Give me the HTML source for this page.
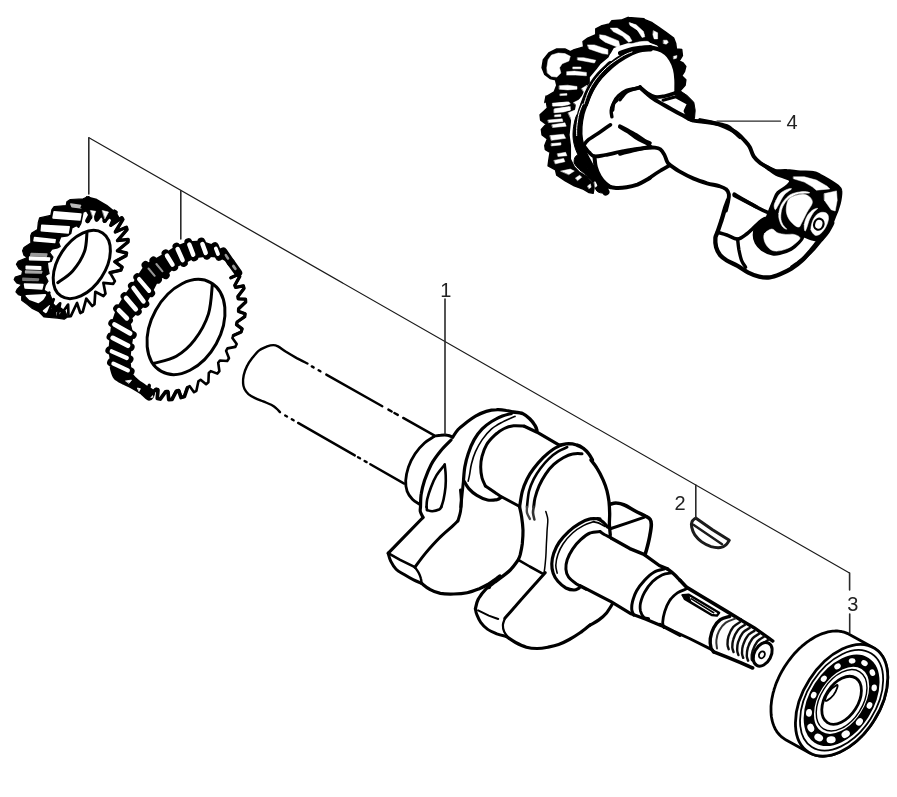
<!DOCTYPE html>
<html lang="en">
<head>
<meta charset="utf-8">
<title>Crankshaft assembly diagram</title>
<style>
html,body{margin:0;padding:0;background:#fff;}
body{width:897px;height:797px;overflow:hidden;font-family:"Liberation Sans",sans-serif;}
svg{display:block;}
</style>
</head>
<body>
<svg width="897" height="797" viewBox="0 0 897 797" stroke-linecap="round" stroke-linejoin="round">
<defs><filter id="soft" x="0" y="0" width="897" height="797" filterUnits="userSpaceOnUse"><feGaussianBlur stdDeviation="0.42"/></filter></defs>
<rect width="897" height="797" fill="#fff"/>
<g filter="url(#soft)">
<g id="crank">
<path d="M307.5 363.5C305.7 362.6 300.3 360 296.7 358.1C293.2 356.1 289.1 353.7 286 351.8C282.9 349.8 280.1 347.5 278 346.4C275.8 345.3 275 345.1 273.3 345.1C271.5 345.1 269.6 345.5 267.2 346.4C264.9 347.3 261.6 348.5 259.2 350.4C256.7 352.3 254.5 355.2 252.4 357.8C250.4 360.4 248.5 363 247.1 365.9C245.6 368.8 244.4 372.4 243.7 375.3C243.1 378.2 242.9 381.1 243.1 383.3C243.2 385.6 243.5 386.9 244.4 388.7C245.3 390.5 246.6 392.5 248.4 394.1C250.2 395.6 252.7 396.9 255.1 398.1C257.6 399.3 260.5 400.3 263.2 401.4C265.9 402.6 269 403.6 271.2 404.8C273.5 406 275.2 407.3 276.6 408.6C278.1 409.8 279.4 411.6 280 412.2" fill="none" stroke="#000" stroke-width="2.4" />
<path d="M311.8 366.4 L313.6 367.4" fill="none" stroke="#000" stroke-width="2.4" />
<path d="M318.6 370.3 L320.4 371.3" fill="none" stroke="#000" stroke-width="2.4" />
<path d="M326.3 374.6 L382.3 406.2" fill="none" stroke="#000" stroke-width="2.4" />
<path d="M388.4 409.6 L391.7 411.5" fill="none" stroke="#000" stroke-width="2.4" />
<path d="M394.4 413 L397.8 414.9" fill="none" stroke="#000" stroke-width="2.4" />
<path d="M403.2 417.9 L434.2 435.4" fill="none" stroke="#000" stroke-width="2.4" />
<path d="M285.2 415.5 L287 416.5" fill="none" stroke="#000" stroke-width="2.4" />
<path d="M291.8 419.3 L293.6 420.3" fill="none" stroke="#000" stroke-width="2.4" />
<path d="M298.1 422.9 L354.8 455.4" fill="none" stroke="#000" stroke-width="2.4" />
<path d="M358 457.2 L360 458.3" fill="none" stroke="#000" stroke-width="2.4" />
<path d="M364.6 461 L366.6 462.1" fill="none" stroke="#000" stroke-width="2.4" />
<path d="M370.3 464.2 L404.2 483.6" fill="none" stroke="#000" stroke-width="2.4" />
<path d="M433.9 436.2C435 436.1 438.4 435.3 440.6 435.2C442.9 435 445.3 434.8 447.3 435.2C449.4 435.5 451.8 436.8 452.7 437.2" fill="none" stroke="#000" stroke-width="3" />
<path d="M433.9 436.6C432.4 437.7 427.7 440.1 424.5 443C421.4 445.8 417.8 449.7 415.1 453.7C412.4 457.7 410 462.6 408.4 467.1C406.9 471.6 406 476.5 405.7 480.5C405.5 484.6 406 488.1 407.1 491.3C408.2 494.4 410.4 497.2 412.4 499.3C414.5 501.5 418 503.2 419.2 504" fill="none" stroke="#000" stroke-width="2.8" />
<path d="M451.1 440C449.4 441.8 443.9 446.9 440.6 451C437.3 455.1 433.9 459.5 431.2 464.4C428.6 469.4 426.2 475.6 424.5 480.5C422.9 485.5 421.8 489.6 421.2 494C420.5 498.4 420.6 504.8 420.5 507" fill="none" stroke="#000" stroke-width="3.2" />
<path d="M420.5 506.9C420.5 507.7 419.9 509.7 420.3 511.5C420.7 513.2 422.5 516.5 423 517.5" fill="none" stroke="#000" stroke-width="3.2" />
<path d="M444.4 465.1C443.1 466.8 438.8 471.5 436.6 475.2C434.4 478.9 432.5 483.2 431 487.2C429.4 491.3 428 496 427.2 499.3C426.5 502.6 426.7 505.7 426.5 507" fill="none" stroke="#000" stroke-width="2.6" />
<path d="M426.6 506.9 L427 510.1" fill="none" stroke="#000" stroke-width="2.6" />
<path d="M444.7 464.4C444.8 466.2 445.6 471.4 445.7 475.2C445.9 479 445.8 483.2 445.5 487.2C445.1 491.3 444.3 496 443.6 499.3C442.9 502.6 441.7 505.7 441.3 507" fill="none" stroke="#000" stroke-width="2.6" />
<path d="M441.3 506.9C441 507.3 440.6 508.7 439.1 509.5C437.6 510.2 434.4 511.1 432.3 511.2C430.3 511.3 427.9 510.3 427 510.1" fill="none" stroke="#000" stroke-width="2.6" />
<path d="M452.7 437.2C453.6 435.9 455.9 431.9 458.1 429.5C460.3 427.1 463.2 425.1 466.1 422.8C469 420.6 472.2 418 475.5 416.1C478.9 414.2 482.7 412.5 486.3 411.4C489.9 410.3 493.7 409.8 497 409.7C500.4 409.5 503.4 410 506.4 410.5C509.4 410.9 513.6 412 515 412.3" fill="none" stroke="#000" stroke-width="3.2" />
<path d="M513.6 412.1C515.1 412.3 520.3 412.6 523 413.7C525.6 414.8 527.7 416.8 529.7 418.8C531.7 420.8 533.8 423.5 535 425.5C536.3 427.5 536.7 429.8 537 430.6" fill="none" stroke="#000" stroke-width="3.4" />
<path d="M511.5 413.4C510 413.9 505.7 414.8 502.4 416.1C499.1 417.4 495 419.4 491.6 421.5C488.3 423.6 485.2 425.8 482.2 428.9C479.3 431.9 476.5 435.5 474.2 439.6C471.8 443.7 469.7 449.1 468.2 453.7C466.6 458.3 465.6 462.6 464.8 467.1C464 471.6 463.7 478.3 463.5 480.5" fill="none" stroke="#000" stroke-width="3.2" />
<path d="M515 416.4C512.9 417.3 506.3 420.1 502.4 422.1C498.5 424.2 495 426 491.6 428.9C488.3 431.8 484.9 435.8 482.2 439.6C479.6 443.4 477.3 447.7 475.5 451.7C473.7 455.7 472.5 459.8 471.5 463.8C470.5 467.7 470.1 472.3 469.5 475.2C468.9 478.1 468.4 480.2 468.2 481.2" fill="none" stroke="#000" stroke-width="1.6" />
<path d="M524.3 426.2C522.5 426.1 516.9 425.4 513.6 425.8C510.2 426.2 507.3 426.9 504.2 428.5C501 430 497.7 432.5 494.8 435.2C491.9 437.9 488.8 441 486.7 444.6C484.6 448.1 483 452.6 482 456.4C481 460.1 480.7 463.5 480.7 467.1C480.7 470.7 481.2 474.7 482 477.9C482.8 481 484.8 484.6 485.4 485.9" fill="none" stroke="#000" stroke-width="3" />
<path d="M463.7 480.5C464.6 481.9 466.6 486.1 468.8 488.6C471 491.1 473.7 493.4 476.9 495.3C480 497.2 484.3 499.3 487.6 500C491 500.7 494.8 500 497 499.6C499.3 499.1 500.4 497.7 501 497.3" fill="none" stroke="#000" stroke-width="3.2" />
<path d="M463.5 480.5C463.2 482.8 462.6 489.6 462.1 494C461.7 498.4 461 504.8 460.8 507" fill="none" stroke="#000" stroke-width="3" />
<path d="M460.5 490C460.7 491.8 461.3 497.2 461.3 500.7C461.3 504.3 461.1 508.1 460.5 511.5C460 514.8 458.3 519.3 457.9 520.9" fill="none" stroke="#000" stroke-width="3" />
<path d="M524.3 426.2 L537 432.2 L559.2 445.2" fill="none" stroke="#000" stroke-width="3.2" />
<path d="M485.4 485.9 L500.1 496 L519.2 506.3" fill="none" stroke="#000" stroke-width="3" />
<path d="M423 517.5 L388.3 553.1" fill="none" stroke="#000" stroke-width="3.2" />
<path d="M388.1 553.1 L400.1 559.8 L414.9 567.2" fill="none" stroke="#000" stroke-width="2.6" />
<path d="M457.9 520.9C457 521.8 455.6 523.3 452.5 526.2C449.4 529.1 443.5 533.8 439.1 538.3C434.6 542.8 429.7 548.3 425.6 553.1C421.6 557.9 416.7 564.8 414.9 567.2" fill="none" stroke="#000" stroke-width="3" />
<path d="M388.1 553.1C388.5 554.4 389.4 558.5 390.7 561.1C392.1 563.8 393.9 567 396.1 569.2C398.3 571.4 401.3 572.8 404.2 574.6C407.1 576.4 410.6 578.5 413.6 579.9C416.5 581.4 420.3 582.7 421.6 583.3" fill="none" stroke="#000" stroke-width="3" />
<path d="M414.9 567.2C415.6 568.2 417.9 571.3 418.9 573.2C419.9 575.1 420.5 576.9 420.9 578.6C421.4 580.3 421.5 582.5 421.6 583.3" fill="none" stroke="#000" stroke-width="2.4" />
<path d="M421.6 583.3C423 584.3 426.5 587.7 429.7 589.3C432.8 591 436.4 592.6 440.4 593.4C444.4 594.1 449.4 594.1 453.8 594C458.3 593.9 463 593.6 467.2 592.7C471.5 591.8 475.7 590.1 479.3 588.7C482.9 587.2 486 585.5 488.7 584C491.4 582.4 493.6 580.6 495.4 579.3C497.3 577.9 499.2 576.5 500 575.9" fill="none" stroke="#000" stroke-width="3.2" />
<path d="M560.5 445.4C559.2 446.1 555.4 447.6 552.5 449.7C549.6 451.7 546.2 454.6 543.1 457.7C540 460.9 536.4 464.9 533.7 468.5C531 472 528.9 475.4 527 479.2C525.1 483 523.5 486.6 522.3 491.3C521.1 495.9 520 504.4 519.6 507" fill="none" stroke="#000" stroke-width="3.2" />
<path d="M567.2 447.2C565.7 448 561 449.7 557.9 451.7C554.7 453.6 551.4 456.3 548.5 459.1C545.5 461.9 542.9 465.1 540.4 468.5C537.9 471.8 535.6 475.4 533.7 479.2C531.8 483 530.1 486.6 529 491.3C527.9 495.9 527.3 504.4 527 507" fill="none" stroke="#000" stroke-width="2.6" />
<path d="M582 453.7C580.4 453.7 575.7 453.3 572.6 454C569.5 454.6 566.4 456 563.2 457.7C560.1 459.5 556.7 461.7 553.8 464.4C550.9 467.1 548.2 470.2 545.8 473.8C543.3 477.4 540.9 481.9 539.1 485.9C537.3 489.9 535.9 494.5 535 498C534.1 501.5 533.9 505.5 533.7 507" fill="none" stroke="#000" stroke-width="3" />
<path d="M559.9 445.2C561.3 445 565.8 443.7 568.6 443.6C571.4 443.6 574.2 444.2 576.6 445C579.1 445.7 581.3 446.9 583.4 448.3C585.4 449.8 587.2 451.7 588.7 453.7C590.2 455.6 591.9 458.9 592.5 460" fill="none" stroke="#000" stroke-width="3.4" />
<path d="M527 506.9C527 507.9 526.5 510.8 527 512.8C527.5 514.8 529.4 517.9 529.9 518.9" fill="none" stroke="#444" stroke-width="2.4" />
<path d="M533.7 506.9C533.6 507.9 532.9 510.7 533 512.8C533.1 514.9 534.1 518.4 534.4 519.5" fill="none" stroke="#333" stroke-width="2.6" />
<path d="M519.6 506.9C519.9 508.6 521.1 513 521.6 516.8C522.2 520.7 522.8 525.8 523 530.3C523.1 534.7 522.7 539.7 522.3 543.7C521.8 547.7 520.9 551.7 520.3 554.4C519.6 557.1 518.6 558.9 518.3 559.8" fill="none" stroke="#000" stroke-width="3.2" />
<path d="M545.8 511.5C546.1 512.8 547.6 516.4 547.8 519.5C548 522.7 547.3 526.2 547.1 530.3C546.9 534.3 546.7 539.2 546.4 543.7C546.2 548.2 546.1 552.6 545.8 557.1C545.4 561.6 544.9 567.6 544.4 570.5C544 573.4 543.3 573.9 543.1 574.6" fill="none" stroke="#000" stroke-width="1.5" />
<path d="M518.3 559.8 L529.7 566.5 L543.1 573.9" fill="none" stroke="#000" stroke-width="2.6" />
<path d="M590.9 460C591.9 461.3 594.9 464.7 596.9 468.1C599 471.4 601.5 476.3 603.2 480.1C604.9 483.9 606 487.3 607 490.9C607.9 494.5 608.5 497.8 609 501.6C609.4 505.4 609.6 509.9 609.7 513.7C609.7 517.5 609.3 520.9 609.4 524.4C609.5 528 610.2 533.4 610.3 535.2" fill="none" stroke="#000" stroke-width="3.3" />
<path d="M518.3 559.8C517 561.5 513.8 566.5 510.3 570C506.7 573.5 500.9 577.6 496.8 580.7C492.8 583.9 489.2 585.7 486.1 588.8C483 591.9 479.8 596.2 478.1 599.5C476.3 602.9 475.8 607.4 475.4 608.9" fill="none" stroke="#000" stroke-width="3.2" />
<circle cx="488.6" cy="586.6" r="2.6" fill="#000"/>
<path d="M545.2 572.7C543.4 574.7 538 580.7 534.4 584.8C530.9 588.8 527.3 592.8 523.7 596.8C520.1 600.9 516.1 605.3 513 608.9C509.8 612.5 506.2 616.8 504.9 618.3" fill="none" stroke="#000" stroke-width="3" />
<path d="M475.4 608.9C475.6 609.8 475.8 612.1 476.7 614.3C477.6 616.5 478.9 619.9 480.7 622.3C482.5 624.8 484.8 627.2 487.4 629.1C490.1 631 493.7 632.5 496.8 633.8C500 635 504.7 636 506.2 636.4" fill="none" stroke="#000" stroke-width="3" />
<path d="M478.1 610.3 L488.8 615.6 L498.2 619" fill="none" stroke="#000" stroke-width="2" />
<path d="M504.9 618.3C504.6 619.4 503 622.8 502.9 625C502.8 627.3 503.2 629.5 504.2 631.7C505.2 634 508.1 637.3 508.9 638.5" fill="none" stroke="#000" stroke-width="2.2" />
<path d="M506.2 636.4C507.8 637.4 512.3 640.7 515.6 642.5C519 644.3 522.8 646.2 526.4 647.2C530 648.2 533.5 648.5 537.1 648.5C540.7 648.5 544.3 647.9 547.9 647.2C551.4 646.5 555 645.8 558.6 644.5C562.2 643.2 565.7 641.5 569.3 639.5C572.9 637.6 576.6 635.2 580.1 632.8C583.5 630.4 588.3 626.3 590 625" fill="none" stroke="#000" stroke-width="3.2" />
<path d="M612.3 604.2C611.3 605.7 608.5 610.5 606.3 613.2C604.1 615.8 601.6 617.9 598.9 619.9C596.2 621.9 591.5 624.2 590.1 625.1" fill="none" stroke="#000" stroke-width="3.2" />
<path d="M600 518.9C598.3 518.9 593.5 518.1 590.1 518.9C586.6 519.6 582.9 521.4 579.3 523.6C575.7 525.7 571.9 528.5 568.6 531.6C565.2 534.7 561.7 538.8 559.2 542.3C556.7 545.9 555.1 549.5 553.8 553.1C552.6 556.7 551.9 560.5 551.8 563.8C551.7 567.2 552.1 570.3 553.2 573.2C554.2 576.1 555.7 578.8 557.9 581.3C560 583.7 563.2 586.5 565.9 588C568.6 589.4 571.7 590 574 590C576.2 590 578.4 588.3 579.3 588" fill="none" stroke="#000" stroke-width="3.2" />
<path d="M594.1 521.5C592.3 522.2 586.9 523.7 583.4 525.6C579.8 527.5 576 529.9 572.6 533C569.3 536 565.7 540.1 563.2 543.7C560.8 547.3 559.1 550.9 557.9 554.4C556.6 558 556 562 555.8 565.2C555.7 568.3 557 571.9 557.2 573.2" fill="none" stroke="#000" stroke-width="1.6" />
<path d="M600 531.6C598.3 531.8 593.3 531.6 590.1 533C586.8 534.3 583.6 537 580.7 539.7C577.8 542.3 574.9 545.7 572.6 549.1C570.4 552.4 568.4 556.4 567.2 559.8C566.1 563.2 565.7 566.3 565.9 569.2C566.1 572.1 566.8 574.8 568.6 577.2C570.4 579.7 573.7 581.9 576.6 584C579.6 586 584.5 588.4 586 589.3" fill="none" stroke="#000" stroke-width="3" />
<path d="M597.6 518.7C598.5 519.2 601.3 520.6 603 522C604.6 523.4 606.9 526.3 607.7 527.1" fill="none" stroke="#000" stroke-width="3.2" />
<path d="M593.6 521.7C594.5 522 597 522.3 598.9 523.1C600.8 523.9 604 525.9 605 526.4" fill="none" stroke="#000" stroke-width="1.8" />
<path d="M600 531.5C600.7 532 602.5 533.4 604.3 534.5C606.1 535.5 609.9 537.3 611 537.9" fill="none" stroke="#000" stroke-width="3" />
<path d="M609.7 504.3C610.8 504.1 613.9 502.8 616.4 503C618.8 503.1 621.3 503.6 624.4 505C627.6 506.3 631.6 509.1 635.2 511C638.7 512.9 643.4 515 645.9 516.4C648.4 517.7 649 517.7 649.9 519.1C650.8 520.4 651.3 521.7 651.3 524.4C651.3 527.1 650.6 531.4 649.9 535.2C649.3 539 648 544.1 647.2 547.2C646.5 550.4 645.6 552.8 645.2 554" fill="none" stroke="#000" stroke-width="3.6" />
<path d="M611 528.5 L627.1 523.1 L643.9 517.4" fill="none" stroke="#000" stroke-width="3" />
<path d="M611 537.9 L629.8 548.6 L644.6 554.6" fill="none" stroke="#000" stroke-width="3.4" />
<path d="M644.6 554.8 L659.3 565.5 L667.4 568.9" fill="none" stroke="#000" stroke-width="3.4" />
<path d="M667.4 568.9C668.5 569.8 672 572.3 674.1 574.2C676.2 576.1 679 579.3 680 580.3" fill="none" stroke="#000" stroke-width="3.4" />
<path d="M580.1 585.6 L611 601.7 L631.1 613.8 L645.9 619.2 L662 625.9 L680 635.3" fill="none" stroke="#000" stroke-width="3.2" />
<path d="M664.7 568.9C662.9 569.4 657.3 570.3 654 572.2C650.6 574.1 647.5 577.1 644.6 580.3C641.7 583.4 638.5 587.4 636.5 591C634.5 594.6 633.3 598.6 632.5 601.7C631.7 604.9 631.6 607.6 631.8 609.8C632 612 633.5 614.3 633.8 615.2" fill="none" stroke="#000" stroke-width="3" />
<path d="M671.4 572.9C669.8 573.2 665.1 573.4 662 574.9C658.9 576.4 655.5 578.7 652.6 581.6C649.7 584.5 646.6 588.8 644.6 592.3C642.6 595.9 641.2 600 640.5 603.1C639.9 606.2 640 608.8 640.5 611.1C641.1 613.5 642.6 616 643.9 617.2C645.2 618.4 647.8 618.3 648.6 618.5" fill="none" stroke="#000" stroke-width="2.8" />
<path d="M680 580.2 L686.8 587.4 L700.3 595.5 L727.1 611.6 L740.5 619.7" fill="none" stroke="#000" stroke-width="3.6" />
<path d="M660 624.4 L673.4 631.1 L689.5 638.5 L712.3 649.9" fill="none" stroke="#000" stroke-width="3" />
<path d="M686.8 588.8C685.3 589.5 680.4 590.8 677.4 592.8C674.5 594.8 671.5 597.7 669.4 600.9C667.3 604 665.8 608 664.7 611.6C663.6 615.2 662.8 619.7 662.7 622.3C662.6 625 663.8 626.8 664 627.7" fill="none" stroke="#000" stroke-width="2.8" />
<path d="M682.8 595.2 L688.9 594.8 L719.1 612.7 L717 615.6 L711.7 615 L691.5 602.9 L684.8 598.9Z" fill="none" stroke="#000" stroke-width="2.4" />
<path d="M682.1 594.8 L688.5 594.4 L691.1 602.2 L685.2 598.9Z" fill="#000" stroke="#000" stroke-width="1" />
<path d="M691.5 598.9 L713.7 612.7" fill="none" stroke="#000" stroke-width="1.6" />
<path d="M729.8 616.3C728.2 616.9 723.1 617.8 720.4 619.7C717.7 621.6 715.4 624.6 713.7 627.7C712 630.9 710.8 635.1 710.3 638.5C709.9 641.8 710.4 645.6 711 647.9C711.6 650.1 713.2 651.2 713.7 651.9" fill="none" stroke="#000" stroke-width="3.4" />
<path d="M735.2 618.6C733.6 619.3 728.5 620.6 725.8 622.6C723.1 624.6 720.6 627.8 719.1 630.7C717.5 633.6 716.7 637.1 716.4 640.1C716 643 716.9 647.1 717 648.5" fill="none" stroke="#333" stroke-width="2" />
<path d="M740.5 619.7 L754 627.7 L767.4 637.1 L772.8 641.1" fill="none" stroke="#000" stroke-width="3.4" />
<path d="M713.7 651.9 L727.1 657.2 L740.5 662.6 L752.6 668" fill="none" stroke="#000" stroke-width="3.6" />
<path d="M740 622.1C738.9 622.9 735.1 624.7 733.2 627C731.2 629.4 729.4 633.5 728.5 636.4C727.5 639.4 727.5 642.4 727.5 644.5C727.6 646.6 728.5 648.4 728.7 649.2" fill="none" stroke="#111" stroke-width="2.4" />
<path d="M744.8 625C743.7 625.8 739.9 627.5 738 629.9C736.1 632.3 734.2 636.4 733.3 639.3C732.3 642.2 732.3 645.3 732.3 647.4C732.4 649.5 733.4 651.3 733.6 652.1" fill="none" stroke="#111" stroke-width="2.4" />
<path d="M749.7 627.9C748.5 628.7 744.7 630.4 742.8 632.8C740.9 635.2 739.1 639.3 738.1 642.2C737.2 645.1 737.1 648.1 737.2 650.3C737.2 652.4 738.2 654.2 738.4 655" fill="none" stroke="#111" stroke-width="2.4" />
<path d="M754.5 630.7C753.4 631.6 749.6 633.3 747.7 635.7C745.7 638.1 743.9 642.2 743 645.1C742 648 742 651 742 653.2C742.1 655.3 743 657.1 743.2 657.9" fill="none" stroke="#111" stroke-width="2.4" />
<path d="M759.3 633.6C758.2 634.5 754.4 636.2 752.5 638.6C750.6 641 748.7 645.1 747.8 648C746.8 650.9 746.8 653.9 746.8 656C746.9 658.2 747.9 660 748.1 660.7" fill="none" stroke="#111" stroke-width="2.4" />
<path d="M764.2 636.5C763 637.3 759.2 639.1 757.3 641.5C755.4 643.9 753.6 648 752.6 650.9C751.7 653.8 751.6 657.3 751.7 658.9C751.7 660.6 752.7 660.4 752.9 660.7" fill="none" stroke="#111" stroke-width="2.4" />
<path d="M769 639.4C767.9 640.2 764.1 642 762.1 644.4C760.2 646.8 758.4 650.9 757.4 653.8C756.5 656.7 756.5 660.3 756.5 661.8C756.6 663.4 757.5 662.8 757.7 663" fill="none" stroke="#111" stroke-width="2.4" />
<ellipse cx="762.7" cy="654.3" rx="8.4" ry="12.6" transform="rotate(28 762.7 654.3)" fill="#fff" stroke="#000" stroke-width="3"/>
<ellipse cx="761.9" cy="654.8" rx="2.8" ry="3.6" transform="rotate(28 761.9 654.8)" fill="none" stroke="#000" stroke-width="1.8"/>
</g>
<g id="cam">
<path d="M593.1 193.3 L589.1 192.6 L583.7 189.3 L574.3 185.9 L564.9 180.5 L556.8 175.2 L555.5 169.8 L548.1 165.8 L548.8 160.4 L550.1 152.3 L545.4 149.7 L544.8 145.6 L547.4 138.9 L542.1 134.9 L541.4 129.5 L546.1 124.2 L540.7 120.1 L540.1 114.8 L547.4 108.1 L546.1 100 L546.1 95.9 L544.8 102.6 L547.4 95.9 L554.2 91.9 L556.8 85.2 L555.5 79.8 L550.1 78.5 L544.8 74.4 L542.1 67.7 L543.4 59.7 L548.8 53 L556.8 48.9 L564.9 48.9 L570.3 51.6 L574.3 49.6 L583.7 46.9 L583 41.5 L587.7 38.2 L595.8 34.8 L595.8 28.8 L601.1 26.1 L609.2 24.1 L611.9 20.7 L621.3 20.1 L628 17.4 L636 19.4 L644.1 18.7 L628.1 17.4 L636.1 19.4 L644.2 19.4 L652.2 22.8 L658.9 27.4 L665.6 32.1 L673.7 38.2 L675.7 43.6 L676.4 48.9 L681.7 49.6 L682.4 55.6 L679.1 61 L683.1 63 L685.8 66.4 L684.4 71.7 L681.7 75.8 L685.8 79.8 L685.1 85.2 L680.4 90.5 L676.4 90.5 L673.7 74.4 L669.7 63.7 L664.3 54.3 L657.6 44.9 L646.8 40.9 L637.4 43.6 L628.1 42.2 L620 44.9 L613.2 47.6 L607.9 57 L599.8 63.7 L595.8 69.1 L589.1 77.1 L589.1 82.5 L585 87.9 L581 95.9 L575.6 102.6 L574.3 109.3 L570.3 117 L570.3 121.5 L568.9 134.9 L570.3 145.6 L570.3 159.1 L574.3 167.1 L579.7 172.5 L586.4 176.5 L594.4 185.9Z" fill="#000" stroke="#000" stroke-width="1.5" stroke-linejoin="round"/>
<path d="M574.3 163.1C575 165.3 577.7 167.8 579.7 169.8C581.7 171.8 584.1 172.9 586.4 175.2C588.6 177.4 591.3 180.5 593.1 183.2C594.9 185.9 595.4 189.7 597.1 191.3C598.8 192.8 602.7 193.5 603.2 192.6C603.6 191.7 601.5 188.6 599.8 185.9C598.1 183.2 595.3 179.9 593.1 176.5C590.9 173.2 588.4 169.4 586.4 165.8C584.4 162.2 582.8 156.6 581 155C579.2 153.5 576.8 155 575.6 156.4C574.5 157.7 573.6 160.9 574.3 163.1Z" fill="#000" stroke="#000" stroke-width="1" />
<path d="M610.5 28.1 L617.2 28.1 L629.3 36.2 L632 40.9 L628.7 42.2 L622.6 36.2 L613.2 31.5Z" fill="#fff" stroke="#fff" stroke-width="0.5" />
<path d="M630 22.8 L636 25.4 L644.1 34.2 L642.8 36.2 L637.4 30.1 L630.7 24.8Z" fill="#fff" stroke="#fff" stroke-width="0.5" />
<path d="M599.8 34.8 L605.2 35.5 L618.6 40.9 L619.9 46.2 L617.2 46.9 L605.2 42.2 L599.8 38.2Z" fill="#fff" stroke="#fff" stroke-width="0.5" />
<path d="M587.7 44.9 L594.4 44.9 L607.9 49.6 L607.9 54.3 L602.5 53.6 L589.1 48.9Z" fill="#fff" stroke="#fff" stroke-width="0.5" />
<path d="M577.7 57.7 L583.7 57.7 L595.8 60.3 L594.4 63 L583.7 61 L577.7 59.9Z" fill="#fff" stroke="#fff" stroke-width="0.5" />
<path d="M573 67 L581 67 L581 68.8 L573 68.8Z" fill="#fff" stroke="#fff" stroke-width="0.5" />
<path d="M566.9 71.7 L574.3 71.1 L586.4 72.4 L586.4 75.8 L575.6 75.1 L566.9 75.1Z" fill="#fff" stroke="#fff" stroke-width="0.5" />
<path d="M559.5 85.8 L567.6 85.2 L577 86.5 L577 89.2 L567.6 89.9 L559.5 89.2Z" fill="#fff" stroke="#fff" stroke-width="0.5" />
<path d="M560.2 93.9 L566.9 93.5 L566.9 95.2 L560.2 95.6Z" fill="#fff" stroke="#fff" stroke-width="0.5" />
<path d="M552.8 103.3 L560.9 102.6 L568.9 101.9 L570.3 104 L562.2 106 L552.8 106Z" fill="#fff" stroke="#fff" stroke-width="0.5" />
<path d="M554.2 109.3 L562.2 108 L570.3 106.6 L570.3 110 L563.6 112 L554.2 112.7Z" fill="#fff" stroke="#fff" stroke-width="0.5" />
<path d="M546.8 67.7 L548.1 59.7 L551.5 55 L558.2 53 L564.9 53.6 L570.3 56.3 L568.9 61 L562.2 63.7 L559.5 67.7 L560.9 73.1 L556.8 77.1 L551.5 76.4 L547.4 73.1Z" fill="#fff" stroke="#fff" stroke-width="0.5" />
<path d="M552.8 103.4 L567.6 102 L568.3 104.7 L553.5 106Z" fill="#fff" stroke="#fff" stroke-width="0.5" />
<path d="M554.8 108.7 L568.9 106.7 L570.3 110.1 L555.5 112.1Z" fill="#fff" stroke="#fff" stroke-width="0.5" />
<path d="M554.8 115 L560.9 114.5 L560.9 116.4 L554.8 116.8Z" fill="#fff" stroke="#fff" stroke-width="0.5" />
<path d="M548.1 120.1 L562.2 118.8 L562.9 121.5 L548.8 122.6Z" fill="#fff" stroke="#fff" stroke-width="0.5" />
<path d="M552.1 124.8 L564.9 122.8 L566.2 126.2 L552.8 127.5Z" fill="#fff" stroke="#fff" stroke-width="0.5" />
<path d="M550.1 135.6 L563.6 134.2 L565.6 138.3 L551.5 140.3Z" fill="#fff" stroke="#fff" stroke-width="0.5" />
<path d="M551.5 143.6 L560.9 142.7 L560.9 145 L551.5 145.9Z" fill="#fff" stroke="#fff" stroke-width="0.5" />
<path d="M557.5 153.7 L565.6 152.3 L566.9 155.7 L558.2 156.4Z" fill="#fff" stroke="#fff" stroke-width="0.5" />
<path d="M554.2 160.4 L563.6 158.4 L564.9 161.7 L555.5 163.8Z" fill="#fff" stroke="#fff" stroke-width="0.5" />
<path d="M560.9 171.1 L570.3 169.1 L574.3 171.1 L568.9 174.5Z" fill="#fff" stroke="#fff" stroke-width="0.5" />
<path d="M575.6 177.9 L579.7 175.2 L581.7 177.2 L577.7 180.5Z" fill="#fff" stroke="#fff" stroke-width="0.5" />
<path d="M587.7 185.9 L590.4 183.9 L591.1 187.2 L589.1 188.6Z" fill="#fff" stroke="#fff" stroke-width="0.5" />
<path d="M594.4 181.9 L596.4 181.2 L597.1 185.9 L595.1 187.2Z" fill="#fff" stroke="#fff" stroke-width="0.5" />
<path d="M629.4 22.8 L636.1 24.8 L643.5 31.5 L644.8 36.8 L642.1 37.5 L637.4 30.1 L630.1 25.4Z" fill="#fff" stroke="#fff" stroke-width="0.5" />
<path d="M653.6 30.8 L657.6 32.8 L657.6 38.9 L654.2 38.9 L652.9 34.8Z" fill="#fff" stroke="#fff" stroke-width="0.5" />
<path d="M663.6 40.2 L667 40.2 L668.3 42.2 L666.3 44.2 L663.6 43.6Z" fill="#fff" stroke="#fff" stroke-width="0.5" />
<path d="M673.7 56.3 L677 55.6 L676.4 58.3 L673.7 59Z" fill="#fff" stroke="#fff" stroke-width="0.5" />
<path d="M650 48.9C647.9 49.1 641.7 48.9 637.4 50.3C633 51.6 628.4 54.3 624 57C619.5 59.7 614.6 63 610.5 66.4C606.5 69.7 602.8 73.8 599.8 77.1C596.8 80.4 594.9 82.8 592.8 86.4C590.7 90 589.2 94.1 587.3 98.6C585.5 103.1 583 108.7 581.7 113.4C580.4 118.1 579.7 122.4 579.4 126.8C579.1 131.3 579.2 135.8 579.9 140.3C580.7 144.7 582.2 149.2 584 153.7C585.7 158.2 588.1 162.6 590.7 167.1C593.2 171.6 596.6 176.4 599.1 180.5C601.7 184.7 604.7 190 605.8 191.9 L650 192.6 L650 100Z" fill="#fff" stroke="#fff" stroke-width="0.1" />
<path d="M620 50.3 L633.4 48.9 L646.8 47.6 L657.6 48.9 L665.6 53 L671 59.7 L675 69.1 L676.4 79.8 L676.4 90.5 L620 104Z" fill="#fff" stroke="#fff" stroke-width="0.1" />
<path d="M610.5 54.3C612.3 52.4 619.5 48.9 624 46.9C628.4 44.9 633.4 43.1 637.4 42.2C641.4 41.3 646.3 41.1 648.1 41.5C649.9 42 649.9 44.1 648.1 44.9C646.3 45.7 641.4 45.1 637.4 46.2C633.4 47.4 628 49.6 624 51.6C619.9 53.6 615.5 57.9 613.2 58.3C611 58.8 608.7 56.2 610.5 54.3Z" fill="#fff" stroke="#fff" stroke-width="0.5" />
<path d="M581.7 88.5 L587 85.2 L584.4 92.6Z" fill="#fff" stroke="#fff" stroke-width="0.5" />
<path d="M573.6 102.6 L581.7 98.6 L577 105.6Z" fill="#fff" stroke="#fff" stroke-width="0.5" />
<path d="M568.3 112.8 L575 110.1 L571.6 120.1Z" fill="#fff" stroke="#fff" stroke-width="0.5" />
<path d="M650 48.3C647.9 48.5 641.7 48.7 637.4 50C633 51.3 628.4 53.7 624 56.3C619.5 58.9 614.6 62.3 610.5 65.7C606.5 69.1 602.8 73 599.8 76.4C596.8 79.9 594.7 83.3 592.8 86.4C590.9 89.4 589.8 91.9 588.5 94.8C587.2 97.8 585.6 102.4 585 104" fill="none" stroke="#000" stroke-width="6.4" />
<path d="M610.5 64.9C608.7 66.7 602.3 72.3 599.3 75.8C596.2 79.3 594.1 82.7 592.1 85.8C590.2 89 589 91.5 587.7 94.6C586.4 97.6 584.8 102.4 584.2 104" fill="none" stroke="#000" stroke-width="7.4" />
<path d="M584.2 104C583.7 105.6 581.9 109.6 581 113.4C580.1 117.2 579.1 122.4 578.9 126.8C578.6 131.3 578.7 135.8 579.5 140.3C580.3 144.7 581.8 149.2 583.7 153.7C585.5 158.2 588.1 162.6 590.7 167.1C593.2 171.6 596.6 176.4 599.1 180.5C601.7 184.7 604.7 190 605.8 191.9" fill="none" stroke="#000" stroke-width="7.4" />
<path d="M620 53C622.2 52.3 628.9 49.8 633.4 48.9C637.9 48 642.8 47.6 646.8 47.6C650.9 47.6 654.5 48 657.6 48.9C660.7 49.8 663.4 51.2 665.6 53C667.9 54.7 669.4 57 671 59.7C672.6 62.3 674.1 65.7 675 69.1C675.9 72.4 676.2 76.2 676.4 79.8C676.6 83.4 676.4 88.7 676.4 90.5" fill="none" stroke="#000" stroke-width="4.2" />
<path d="M577 114.8C575.4 116.8 574.3 122.8 573.6 126.8C573 130.9 572.8 134.9 573.2 138.9C573.7 143 574.7 147 576.3 151C577.9 155 581.8 162.6 583 163.1C584.3 163.5 584 157.5 583.7 153.7C583.4 149.9 581.5 144.7 581 140.3C580.5 135.8 580.4 131.1 580.7 126.8C581.1 122.6 583.6 116.8 583 114.8C582.4 112.8 578.5 112.8 577 114.8Z" fill="#000" stroke="#000" stroke-width="1" />
<path d="M632 51.9C630.6 52.5 627.1 53.5 623.4 55.6C619.7 57.8 613.8 61.5 609.7 64.8C605.6 68.1 601.9 72.1 598.9 75.5C595.9 78.9 593.6 82.3 591.7 85.4C589.8 88.5 588.7 90.9 587.4 94C586.2 97.1 584.5 102.3 584 104" fill="none" stroke="#fff" stroke-width="1" />
<path d="M582.6 104C582 105.6 580 109.6 579 113.4C578 117.2 577.2 123.2 576.8 126.8C576.5 130.5 576.7 134.1 576.7 135.6" fill="none" stroke="#fff" stroke-width="1" />
<path d="M620 99.5C620.9 98.4 623.6 94.4 625.4 92.8C627.2 91.3 628.3 91 630.7 90.1C633.2 89.2 638.6 87.9 640.1 87.4" fill="none" stroke="#000" stroke-width="3.6" />
<path d="M640.1 87.4C641.3 88.3 644.4 91.3 646.8 92.8C649.3 94.4 652 96.3 654.9 96.8C657.8 97.4 661.2 96.7 664.3 96.2C667.4 95.6 671.5 94.3 673.7 93.5C675.9 92.7 677 91.8 677.7 91.5" fill="none" stroke="#000" stroke-width="3.6" />
<path d="M640.1 87.4C642.4 89.4 648.4 95.3 653.6 98.9C658.7 102.4 666.1 106.1 671 108.9C675.9 111.7 679.5 113.7 683.1 115.6C686.7 117.5 689.1 119.3 692.5 120.3C695.8 121.3 699.2 121.1 703.2 121.7C707.2 122.2 712.6 122.9 716.6 123.7C720.7 124.5 724.5 125 727.4 126.4C730.3 127.7 732 130 734.1 131.7C736.2 133.5 739 136.2 740 137.1" fill="none" stroke="#000" stroke-width="4" />
<path d="M675 91.5 L679.1 90.1 L687.1 95.5 L693.8 102.2 L695.2 110.3 L694.5 118.3 L692.5 121.7 L687.1 119.7 L684.4 111.6 L688.5 103.6 L676.4 96.8Z" fill="#000" stroke="#000" stroke-width="1" />
<path d="M663 100.2 L675.7 96.8 L688.5 103.6 L685.1 110.9" fill="none" stroke="#000" stroke-width="3" />
<path d="M612.6 110C612.8 108.8 612.9 105 613.9 102.6C614.9 100.3 616.5 97.9 618.6 95.9C620.7 93.9 623.7 91.8 626.6 90.5C629.6 89.3 633.8 89.1 636 88.5C638.3 88 639.4 87.4 640.1 87.2" fill="none" stroke="#000" stroke-width="3.6" />
<path d="M620 127C621.3 127.8 625.1 129.8 628.1 131.7C631 133.6 634.3 136.6 637.4 138.5C640.6 140.4 644.6 141.7 646.8 143.2C649.1 144.6 650.2 146.5 650.9 147.2" fill="none" stroke="#000" stroke-width="3.8" />
<path d="M620 153.9C622.2 153.3 628.9 151.5 633.4 150.5C637.9 149.5 643.3 148.3 646.8 147.9C650.4 147.4 652.7 147.4 654.9 147.6C657.1 147.8 658.7 148 660.3 149.2C661.8 150.4 663.2 152.6 664.3 154.6C665.4 156.6 666.1 159.5 667 161.3C667.9 163.1 669.2 164.6 669.7 165.3" fill="none" stroke="#000" stroke-width="3.8" />
<path d="M669.7 165.3C668.1 166.2 663.4 168.7 660.3 170.7C657.1 172.6 652.4 175.9 650.9 177" fill="none" stroke="#000" stroke-width="3.6" />
<path d="M668.9 164.2C670.8 165.5 676.1 169.5 680.3 171.9C684.4 174.3 689.2 176.7 693.7 178.6C698.2 180.5 702.9 182 707.1 183.3C711.4 184.5 716.1 185.1 719.2 186.1C722.3 187.1 724.3 187.7 725.9 189.1C727.5 190.4 728.5 192.2 728.9 194.4C729.2 196.7 728.4 199.8 727.9 202.5C727.4 205.2 726.2 209.2 725.9 210.5" fill="none" stroke="#000" stroke-width="3.9" />
<path d="M610.5 124.8C608.7 126.1 603.6 129.6 599.8 132.2C596 134.8 590.4 138 587.7 140.3C585 142.5 584.4 144.7 583.7 145.6" fill="none" stroke="#000" stroke-width="3.6" />
<path d="M583.7 145.6C584.6 146.8 587.3 150.6 589.1 152.3C590.9 154.1 591.7 155.9 594.4 156.4C597.1 156.8 600.2 155.9 605.2 155C610.1 154.1 618.6 152 624 151C629.3 150 633 149.7 637.4 149C641.7 148.3 647.9 147.3 650 147" fill="none" stroke="#000" stroke-width="3.8" />
<path d="M594.4 156.4C594.7 158.2 594.9 163.8 595.8 167.1C596.7 170.5 598.2 173.8 599.8 176.5C601.4 179.2 603.4 181.4 605.2 183.2C607 185 609.6 186.6 610.5 187.2" fill="none" stroke="#000" stroke-width="4" />
<path d="M605.2 185.9C607 186.2 612.3 187.7 615.9 187.9C619.5 188.1 623.1 187.8 626.6 187.2C630.2 186.7 634.3 185.7 637.4 184.6C640.5 183.4 643.3 181.7 645.4 180.5C647.5 179.4 649.2 178.3 650 177.9" fill="none" stroke="#000" stroke-width="4" />
<path d="M619.9 126.2C621.1 126.7 624 128.1 626.6 129.5C629.3 131 633.1 133.1 636 134.9C638.9 136.7 641.8 138.9 644.1 140.3C646.4 141.6 649 142.5 650 143" fill="none" stroke="#000" stroke-width="3.6" />
<path d="M611.9 116.8C611.8 115.8 611 112.9 611.2 110.7C611.4 108.6 612.2 105.8 613.2 104C614.2 102.2 616.6 100.7 617.2 100" fill="none" stroke="#000" stroke-width="3.4" />
<path d="M605.2 192.6 L605.8 189.9" fill="none" stroke="#000" stroke-width="3.8" />
<path d="M700 120.1C701.8 120.5 707.4 121.4 710.7 122.1C714.1 122.9 717 123.7 720.1 124.8C723.3 126 726.6 127.4 729.5 128.9C732.4 130.3 735.1 131.7 737.6 133.6C740 135.5 742.3 138 744.3 140.3C746.3 142.5 748.1 144.3 749.7 147C751.2 149.7 751.9 153.7 753.7 156.4C755.5 159.1 757.7 161.1 760.4 163.1C763.1 165.1 767.3 167.1 769.8 168.5C772.3 169.8 774.3 170.7 775.2 171.1" fill="none" stroke="#000" stroke-width="4" />
<path d="M734.2 195.3C735.9 196.2 740.6 198.7 744.3 200.7C748 202.6 754.4 205.9 756.4 207" fill="none" stroke="#000" stroke-width="3.6" />
<path d="M727.9 200.1C727.5 201.3 726.6 203.5 725.5 206.8C724.4 210.2 722.8 216 721.5 220.3C720.1 224.5 718.5 229.4 717.4 232.3C716.4 235.3 715.7 235.3 715.4 237.7C715.2 240.2 715.3 244.2 716.1 247.1C716.9 250 718.3 252.9 720.1 255.2C721.9 257.4 723.9 258.7 726.8 260.5C729.8 262.3 734 263.9 737.6 265.9C741.2 267.9 744.7 270.8 748.3 272.6C751.9 274.4 755.5 275.9 759.1 276.6C762.6 277.4 766.2 277.8 769.8 277.3C773.4 276.9 777 275.4 780.5 274C784.1 272.5 787.7 270.8 791.3 268.6C794.9 266.4 798.7 263.7 802 260.5C805.4 257.4 808.9 252.7 811.4 249.8C813.9 246.9 815.9 244.2 816.8 243.1" fill="none" stroke="#000" stroke-width="4.3" />
<path d="M734.2 194.1C735.9 195.1 740.6 198 744.3 200.1C748 202.3 752.6 204.8 756.4 206.8C760.2 208.9 765.3 211.3 767.1 212.2" fill="none" stroke="#000" stroke-width="3.6" />
<path d="M717.4 232.3C719 232.8 723.5 233.9 726.8 235C730.2 236.2 734.2 239.3 737.6 239.1C740.9 238.8 743.6 236.2 747 233.7C750.3 231.2 754.4 226.8 757.7 224.3C761.1 221.8 765.5 219.8 767.1 218.9" fill="none" stroke="#000" stroke-width="3.6" />
<path d="M737.6 239.1C737.8 240.9 738.3 246.2 738.9 249.8C739.6 253.4 740.5 257.6 741.6 260.5C742.7 263.4 745 266.1 745.6 267.2" fill="none" stroke="#000" stroke-width="3.4" />
<path d="M760 162.7C760 162.2 765.6 165.5 768.1 166.7C770.5 167.9 771.6 169.5 774.8 170.1C777.9 170.6 782.6 169.8 786.8 170.1C791.1 170.3 795.8 171.1 800.3 171.4C804.7 171.7 810.3 171.5 813.7 172.1C817 172.6 817.7 173.4 820.4 174.8C823.1 176.1 826.9 178.3 829.8 180.1C832.7 181.9 836 183.8 837.9 185.5C839.8 187.2 840.8 187.7 841.2 190.2C841.7 192.7 841.1 197 840.5 200.3C840 203.5 838.7 207 837.9 209.7C837 212.3 836.1 214.1 835.2 216.4C834.3 218.6 833.8 220.4 832.5 223.1C831.1 225.8 829.1 229.6 827.1 232.5C825.1 235.4 823.1 239.4 820.4 240.5C817.7 241.7 814.4 240.1 811 239.2C807.7 238.3 804.3 236.3 800.3 235.2C796.2 234 791.3 233.4 786.8 232.5C782.4 231.6 777 231.1 773.4 229.8C769.8 228.5 766.3 227.1 765.4 224.4C764.5 221.7 766.7 217.7 768.1 213.7C769.4 209.7 771.9 203.8 773.4 200.3C775 196.7 775.2 194.7 777.4 192.2C779.7 189.8 784.8 187.5 786.8 185.5C788.9 183.5 791.3 181.9 789.5 180.1C787.7 178.3 779.7 176.6 776.1 174.8C772.5 173 770.7 171.4 768.1 169.4C765.4 167.4 760 163.1 760 162.7Z" fill="#000" stroke="#000" stroke-width="2" />
<path d="M832.5 223.1C831.6 224.7 829.1 229.6 827.1 232.5C825.1 235.4 822.6 237.9 820.4 240.5C818.2 243.2 816.2 245.9 813.7 248.6C811.2 251.3 808.3 254.2 805.6 256.6C803 259.1 799.8 261.6 797.6 263.4C795.3 265.1 793.1 266.4 792.2 267" fill="none" stroke="#000" stroke-width="4" />
<path d="M793.6 176.8 L804.3 176.8 L816.4 180.1 L827.1 186.2 L829.8 188.9 L816.4 190.2 L812.3 186.8 L804.3 182.1 L793.6 178.8Z" fill="#fff" stroke="#fff" stroke-width="0.5" />
<path d="M824.4 193.6 L836.5 190.9 L837.2 200.3 L835.2 211 L831.1 209.7 L824.4 200.3Z" fill="#fff" stroke="#fff" stroke-width="0.5" />
<path d="M788.2 200.3C789.4 198 791.1 197.2 793.6 196.2C796 195.2 800.3 194.1 803 194.2C805.6 194.3 808.1 195.5 809.7 196.9C811.2 198.4 812.8 200.4 812.3 203C811.9 205.5 808.8 209 807 212.3C805.2 215.7 803 220.6 801.6 223.1C800.3 225.5 800.3 226.9 798.9 227.1C797.6 227.3 795.3 226 793.6 224.4C791.8 222.9 789.4 220.2 788.2 217.7C787 215.3 786.2 212.6 786.2 209.7C786.2 206.8 787 202.5 788.2 200.3Z" fill="#fff" stroke="#fff" stroke-width="0.5" />
<path d="M776.1 200.3C777.1 198.3 778.3 195.3 780.1 193.6C781.9 191.8 784.9 190.3 786.8 189.5C788.7 188.7 792 188 791.5 188.9C791.1 189.8 786.3 192.3 784.2 194.9C782 197.5 780.2 201.8 778.8 204.3C777.3 206.8 776.2 209.4 775.4 209.7C774.7 209.9 774 207.2 774.1 205.6C774.2 204.1 775.1 202.3 776.1 200.3Z" fill="#fff" stroke="#fff" stroke-width="0.5" />
<path d="M778.8 213.7C779.1 211 779.9 207.2 781.5 204.3C783 201.4 786 198.1 788.2 196.2C790.4 194.3 792.2 193.7 794.9 192.9C797.6 192.1 801.8 191.5 804.3 191.5C806.8 191.5 810.3 192.6 809.7 192.9C809 193.2 803 193.1 800.3 193.6C797.6 194 795.8 194.5 793.6 195.6C791.3 196.7 788.7 198.1 786.8 200.3C784.9 202.4 783.2 205.4 782.1 208.3C781.1 211.2 780.7 215 780.8 217.7C780.9 220.4 781.8 222.5 782.8 224.4C783.8 226.3 786.8 228.7 786.8 229.1C786.8 229.6 784 228.6 782.8 227.1C781.6 225.7 780.1 222.6 779.5 220.4C778.8 218.2 778.5 216.4 778.8 213.7Z" fill="#fff" stroke="#fff" stroke-width="0.5" />
<path d="M804.3 224.4C804.6 222 805.6 218.7 807 216.4C808.3 214 810.6 211.7 812.3 210.3C814.1 209 817.5 208 817.7 208.3C817.9 208.7 815 210.6 813.7 212.3C812.3 214.1 810.8 216.6 809.7 219.1C808.5 221.5 807.8 225.1 807 227.1C806.2 229.1 805.4 231.6 805 231.1C804.5 230.7 804 226.9 804.3 224.4Z" fill="#fff" stroke="#fff" stroke-width="0.5" />
<path d="M811 229.8C810.6 227.6 811.5 224.2 812.3 221.7C813.2 219.3 814.8 216.6 816.4 215C817.9 213.5 820 212.6 821.7 212.3C823.5 212.1 826 212.6 827.1 213.7C828.2 214.8 828.7 216.8 828.5 219.1C828.2 221.3 827.1 224.7 825.8 227.1C824.4 229.6 822.2 232.5 820.4 233.8C818.6 235.2 816.6 235.8 815 235.2C813.5 234.5 811.5 232 811 229.8Z" fill="#fff" stroke="#fff" stroke-width="0.5" />
<ellipse cx="818.8" cy="224.2" rx="4.6" ry="5.6" transform="rotate(20 818.8 224.2)" fill="#fff" stroke="#000" stroke-width="2.2"/>
<ellipse cx="818.8" cy="224.2" rx="1.2" ry="1.6" fill="#fff" stroke="none"/>
<path d="M767.1 217.6C764.4 216.9 758.6 221.4 756.4 224.3C754.1 227.2 753.8 231.9 753.7 235C753.6 238.2 754.4 240.6 755.7 243.1C757 245.5 758.9 247.9 761.7 249.8C764.5 251.7 769.4 253.8 772.5 254.5C775.6 255.2 777.4 254.6 780.5 253.8C783.7 253 788.1 251.6 791.3 249.8C794.4 248 797.3 245.3 799.3 243.1C801.3 240.9 803.8 237.9 803.4 236.4C802.9 234.8 799.6 234.1 796.6 233.7C793.7 233.2 789 233.9 785.9 233.7C782.8 233.5 780.1 233.2 777.9 232.3C775.6 231.5 774.3 230.8 772.5 228.3C770.7 225.9 769.8 218.3 767.1 217.6Z" fill="#000" stroke="#000" stroke-width="2" />
<path d="M764.4 233.7C765.7 231.7 769.6 229.1 771.8 229C774 228.9 775.5 232.1 777.9 233C780.2 233.9 783.2 234.1 785.9 234.4C788.6 234.6 791.6 233.8 794 234.4C796.3 235 800 236.3 800 238C800 239.7 796.3 242.6 794 244.4C791.6 246.3 789 248 785.9 249.1C782.8 250.2 778.1 251.4 775.2 251.1C772.3 250.9 770.2 249.5 768.5 247.8C766.7 246.1 765.1 243.4 764.4 241.1C763.8 238.7 763.2 235.7 764.4 233.7Z" fill="#fff" stroke="#fff" stroke-width="0.5" />
</g>
<g id="bearing">
<path d="M771 709.9 L771 708.1 L771 706.2 L771.2 704.4 L771.4 702.6 L771.6 700.7 L771.9 698.8 L772.3 696.9 L772.7 695 L773.1 693 L773.7 691.1 L774.2 689.1 L774.9 687.2 L775.5 685.2 L776.2 683.3 L777 681.4 L777.9 679.4 L778.7 677.5 L779.6 675.6 L780.6 673.7 L781.6 671.8 L782.7 669.9 L783.8 668.1 L784.9 666.3 L786.1 664.5 L787.3 662.7 L788.5 661 L789.8 659.3 L791.1 657.6 L792.5 655.9 L793.8 654.3 L795.2 652.8 L796.7 651.2 L798.1 649.8 L799.6 648.3 L801.1 647 L802.6 645.6 L804.2 644.3 L805.7 643.1 L807.3 641.9 L808.9 640.8 L810.5 639.7 L812.1 638.7 L813.7 637.7 L815.3 636.8 L816.9 636 L818.5 635.2 L820.1 634.5 L821.7 633.9 L823.3 633.3 L824.9 632.8 L826.5 632.3 L828 631.9 L829.6 631.6 L831.1 631.4 L832.7 631.2 L834.2 631.1 L835.7 631 L837.1 631 L838.6 631.1 L840 631.3 L841.4 631.5 L842.7 631.8 L844 632.2 L845.3 632.6 L846.6 633.1 L847.8 633.6 L849 634.2 L873.5 647.8 L874.6 648.4 L875.8 649.2 L876.8 650 L877.8 650.9 L878.8 651.8 L879.7 652.8 L880.6 653.8 L881.5 654.9 L882.2 656.1 L883 657.3 L883.7 658.6 L884.3 659.9 L884.9 661.3 L885.4 662.7 L885.9 664.1 L886.3 665.6 L886.7 667.2 L887 668.8 L887.3 670.4 L887.5 672.1 L887.6 673.8 L887.7 675.5 L887.8 677.2 L887.7 679 L887.6 680.9 L887.5 682.7 L887.3 684.5 L887.1 686.4 L886.8 688.3 L886.4 690.2 L886 692.1 L885.6 694.1 L885 696 L884.5 698 L883.9 699.9 L883.2 701.9 L882.5 703.8 L881.7 705.7 L880.9 707.7 L880 709.6 L879.1 711.5 L878.1 713.4 L877.1 715.3 L876 717.2 L875 719 L873.8 720.8 L872.6 722.6 L871.4 724.4 L870.2 726.1 L868.9 727.8 L867.6 729.5 L866.2 731.2 L864.9 732.8 L863.5 734.3 L862 735.9 L860.6 737.3 L859.1 738.8 L857.6 740.1 L856.1 741.5 L854.5 742.8 L853 744 L851.4 745.2 L849.8 746.3 L848.2 747.4 L846.6 748.4 L845 749.4 L843.4 750.3 L841.8 751.1 L840.2 751.9 L838.6 752.6 L837 753.2 L835.4 753.8 L833.8 754.3 L832.2 754.8 L830.6 755.2 L829.1 755.5 L827.5 755.7 L826 755.9 L824.5 756 L823 756.1 L821.6 756.1 L820.1 756 L818.7 755.8 L817.3 755.6 L816 755.3 L814.6 754.9 L813.4 754.5 L812.1 754 L810.9 753.5 L809.7 752.9 L785.2 739.4 L784.1 738.7 L783 737.9 L781.9 737.1 L780.9 736.2 L779.9 735.3 L779 734.3 L778.1 733.3 L777.2 732.2 L776.5 731 L775.7 729.8 L775 728.5 L774.4 727.2 L773.8 725.8 L773.3 724.4 L772.8 723 L772.4 721.5 L772 719.9 L771.7 718.3 L771.4 716.7 L771.2 715 L771.1 713.3 L771 711.6Z" fill="#fff" stroke="#000" stroke-width="2.8" />
<ellipse cx="841.6" cy="700.3" rx="38.2" ry="61.5" transform="rotate(32.5 841.6 700.3)" fill="#fff" stroke="#000" stroke-width="2.8"/>
<ellipse cx="841.6" cy="700.3" rx="34.4" ry="55.4" transform="rotate(32.5 841.6 700.3)" fill="none" stroke="#000" stroke-width="1.8"/>
<ellipse cx="841.6" cy="700.3" rx="30.6" ry="49.2" transform="rotate(32.5 841.6 700.3)" fill="#000" stroke="#000" stroke-width="2"/>
<ellipse cx="841.6" cy="700.3" rx="23.7" ry="38.1" transform="rotate(32.5 841.6 700.3)" fill="#fff" stroke="#000" stroke-width="2"/>
<ellipse cx="841.6" cy="700.3" rx="21" ry="33.8" transform="rotate(32.5 841.6 700.3)" fill="none" stroke="#000" stroke-width="1.4"/>
<ellipse cx="841.6" cy="700.3" rx="16.4" ry="26.4" transform="rotate(32.5 841.6 700.3)" fill="none" stroke="#000" stroke-width="2.8"/>
<ellipse cx="859.4" cy="721.9" rx="3.1" ry="4" transform="rotate(219.9 859.4 721.9)" fill="#fff"/>
<ellipse cx="845.7" cy="734.2" rx="3.4" ry="4.4" transform="rotate(238 845.7 734.2)" fill="#fff"/>
<ellipse cx="831.1" cy="739.7" rx="3.5" ry="4.6" transform="rotate(263.3 831.1 739.7)" fill="#fff"/>
<ellipse cx="818.7" cy="737.5" rx="3.5" ry="4.6" transform="rotate(-59.3 818.7 737.5)" fill="#fff"/>
<ellipse cx="810.8" cy="727.9" rx="3.3" ry="4.3" transform="rotate(-21.1 810.8 727.9)" fill="#fff"/>
<ellipse cx="809" cy="712.8" rx="3" ry="3.9" transform="rotate(5.2 809 712.8)" fill="#fff"/>
<ellipse cx="813.7" cy="695.2" rx="2.7" ry="3.4" transform="rotate(23.7 813.7 695.2)" fill="#fff"/>
<ellipse cx="823.8" cy="678.7" rx="2.7" ry="3.4" transform="rotate(39.9 823.8 678.7)" fill="#fff"/>
<ellipse cx="837.5" cy="666.4" rx="2.7" ry="3.4" transform="rotate(58 837.5 666.4)" fill="#fff"/>
<ellipse cx="852.1" cy="660.9" rx="2.7" ry="3.4" transform="rotate(83.3 852.1 660.9)" fill="#fff"/>
<ellipse cx="864.5" cy="663.1" rx="2.7" ry="3.4" transform="rotate(120.7 864.5 663.1)" fill="#fff"/>
<ellipse cx="872.4" cy="672.7" rx="2.7" ry="3.4" transform="rotate(158.9 872.4 672.7)" fill="#fff"/>
<ellipse cx="874.2" cy="687.8" rx="2.7" ry="3.4" transform="rotate(185.2 874.2 687.8)" fill="#fff"/>
<ellipse cx="869.5" cy="705.4" rx="2.7" ry="3.5" transform="rotate(203.7 869.5 705.4)" fill="#fff"/>
<path d="M836.5 685.1C835.1 685.8 830.8 689.5 828.9 691.9C827 694.4 825.3 698.2 825.1 699.6C824.8 701 825.9 701.1 827.4 700.4C828.8 699.6 831.8 697.2 833.5 695C835.1 692.8 836.8 689 837.3 687.4C837.8 685.7 837.9 684.3 836.5 685.1Z" fill="#fff" stroke="#000" stroke-width="1.8" />
</g>
<g id="key">
<path d="M695.7 518C695.1 518.6 692.8 520 692.1 521.5C691.4 523 691.2 524.8 691.7 527.1C692.2 529.4 693.4 532.7 695 535.2C696.7 537.6 699.1 540 701.7 541.9C704.4 543.8 708 545.6 711.1 546.6C714.3 547.5 718.1 547.8 720.5 547.5C723 547.2 724.5 546 725.9 544.8C727.4 543.6 728.7 541 729.3 540.3 L712.5 529.8 L695.7 518Z" fill="#fff" stroke="#1a1a1a" stroke-width="3" />
<path d="M693.4 524.7 L722.1 544.3" fill="none" stroke="#1a1a1a" stroke-width="2.4" />
</g>

<g id="gear1">
<path d="M88.7 196.5 L83.1 198.9 L70.3 199.5 L66.9 201.7 L66.2 205.6 L54.1 206.7 L51.9 209.5 L50.8 215.4 L39.6 217.9 L38.3 222.4 L37.6 229.6 L31.8 233 L30.7 235.8 L30.9 243 L24 247.5 L22.6 250.8 L24 255.3 L27.3 257.5 L18.2 261.4 L16.4 264.2 L19 268.7 L22.6 270.6 L21.7 275 L15.3 277.1 L14.2 279.6 L16.7 283 L21.7 284.6 L17.3 289.1 L15.9 291.9 L18.4 294.7 L21.7 295.8 L21.7 300.3 L26.2 303.6 L31.8 308.1 L38.5 311.4 L44.1 317 L51.9 317.6 L57.5 318.1 L64.2 319.2 L67.5 317 L65.3 311.4 L60.8 308.1 L56.3 307 L53 303.6 L51.9 299.2 L49.6 293.6 L44.1 290.2 L45.2 285.8 L48 281.3 L45.2 275.7 L49.1 273.5 L49.1 273.7 L48 268.1 L47.4 262.5 L51.3 261.4 L53 257 L49.6 252.5 L51.9 249.2 L57.5 248 L60.2 246.4 L58.6 242.5 L60.8 236.9 L67.5 236 L70.8 233.5 L72 227.9 L76.4 225.7 L78.7 227.4 L80.9 223.5 L82 217.9 L83.1 212.3 L87.6 210.1 L90.9 206.7 L94.3 203.4Z" fill="#000" stroke="#000" stroke-width="1.2" stroke-linejoin="round"/>
<path d="M70.8 204 L80.9 205.6 L82 207.9 L72 206.7Z" fill="#bbb" stroke="#bbb" stroke-width="1.5" stroke-linejoin="round"/>
<path d="M54.1 211.8 L80.9 214 L79.8 220.1 L53 217.9Z" fill="#fff" stroke="#fff" stroke-width="1.5" stroke-linejoin="round"/>
<path d="M41.8 225.2 L69.2 226.8 L68.1 233 L41.3 230.7Z" fill="#fff" stroke="#fff" stroke-width="1.5" stroke-linejoin="round"/>
<path d="M34.6 237.4 L55.2 239.7 L54.7 242.5 L34 240.8Z" fill="#fff" stroke="#fff" stroke-width="1.5" stroke-linejoin="round"/>
<path d="M31.2 253.4 L46.9 254 L46.3 256.2 L30.7 255.6Z" fill="#999" stroke="#999" stroke-width="1.5" stroke-linejoin="round"/>
<path d="M29.6 257 L49.6 258.1 L49.1 260.3 L29.6 259.8Z" fill="#fff" stroke="#fff" stroke-width="1.5" stroke-linejoin="round"/>
<path d="M26.2 266.2 L40.7 266.8 L40.7 269.2 L26.2 268.8Z" fill="#fff" stroke="#fff" stroke-width="1.5" stroke-linejoin="round"/>
<path d="M25.6 270.9 L41.8 271.5 L41.3 273 L25.6 272.7Z" fill="#aaa" stroke="#aaa" stroke-width="1.5" stroke-linejoin="round"/>
<path d="M22.9 278.2 L38.5 279.1 L37.9 280.6 L22.9 280.2Z" fill="#777" stroke="#777" stroke-width="1.5" stroke-linejoin="round"/>
<path d="M24.5 284.1 L42.9 284.6 L41.8 289.1 L25.1 288Z" fill="#fff" stroke="#fff" stroke-width="1.5" stroke-linejoin="round"/>
<path d="M26.2 295.8 L45.2 294.7 L46.3 296.9 L38.5 302.5 L29.6 299.2Z" fill="#fff" stroke="#fff" stroke-width="1.5" stroke-linejoin="round"/>
<path d="M43.5 310.9 L49.6 305.8 L50.8 308.1 L45.7 312.5Z" fill="#fff" stroke="#fff" stroke-width="1.5" stroke-linejoin="round"/>
<path d="M57.2 312.5 L59.7 312.5 L59.7 315.3 L57.2 315.3Z" fill="#fff" stroke="#fff" stroke-width="1.5" stroke-linejoin="round"/>
<path d="M87.7 220.6 L93.5 209.9 L95.8 209.5 L96.8 219 L96.8 219 L104.3 209.3 L106.3 209.6 L104.9 220.3" fill="none" stroke="#000" stroke-width="5" stroke-linejoin="round"/>

<path d="M87.6 221.6 L93.8 208.5 L96.1 208.1 L96.5 220 L96.5 220 L104.9 208 L106.9 208.3 L104.4 221.3 L104.4 221.3 L114.4 211.1 L116.1 212.1 L110.8 225.4 L110.8 225.4 L121.8 217.7 L122.9 219.4 L115.3 232 L115.3 232 L126.4 227.3 L127 229.6 L117.5 240.6 L117.5 240.6 L128.1 239.4 L128 242 L117.4 250.8 L117.4 250.8 L126.6 253 L125.9 255.8 L114.8 261.7 L114.8 261.7 L122.1 267.2 L120.9 270.1 L110 272.6 L110 272.6 L114.9 281.1 L113.2 283.8 L103.4 282.9 L103.4 282.9 L105.5 293.7 L103.4 296 L95.3 291.8 L95.3 291.8 L94.5 304.2 L92.2 306 L86.3 298.6 L86.3 298.6 L82.7 311.8 L80.3 313 L77 303 L77 303 L70.8 316.1 L68.5 316.5 L68.1 304.6 L68.1 304.6 L59.7 316.6 L57.7 316.3 L60.2 303.3 L60.2 303.3 L50.2 313.5 L48.5 312.5 L53.8 299.2 L53.8 299.2 L42.8 306.9 L41.7 305.2 L49.3 292.6" fill="none" stroke="#000" stroke-width="2.7" stroke-linejoin="round"/>
<path d="M87.6 221.6 L93.8 208.5 L96.1 208.1 L96.5 220 L96.5 220 L104.9 208 L106.9 208.3 L104.4 221.3 L104.4 221.3 L114.4 211.1 L116.1 212.1 L110.8 225.4 L110.8 225.4 L121.8 217.7 L122.9 219.4 L115.3 232 L115.3 232 L126.4 227.3 L127 229.6 L117.5 240.6 L117.5 240.6 L128.1 239.4 L128 242 L117.4 250.8 L117.4 250.8 L126.6 253 L125.9 255.8 L114.8 261.7 L114.8 261.7 L122.1 267.2 L120.9 270.1 L110 272.6" fill="none" stroke="#000" stroke-width="3.4" stroke-linejoin="round"/>
<ellipse cx="81.8" cy="264.5" rx="23.5" ry="37.8" transform="rotate(33.4 81.8 264.5)" fill="#fff" stroke="#000" stroke-width="3.0"/>
<path d="M86.8 197.1 L95.7 199.4 L106.4 205.6 L116.2 213.6 L119.8 219.9 L113.5 220.8 L108.2 216.3 L104.6 219.9 L100.1 214.5 L94.8 211.9 L91.2 218.1 L86.8 211 L81.4 207.4Z" fill="#000" stroke="#000" stroke-width="2" />
<path d="M90.7 210.6 L95.7 211.3 L93.2 217.8Z" fill="#fff" stroke="#fff" stroke-width="0.6" />
<path d="M102.5 210.6 L108.5 212 L105 218.5Z" fill="#fff" stroke="#fff" stroke-width="0.6" />
<path d="M87 232.5C86.5 235.7 86.8 245.4 84.4 251.8C82.1 258.2 77.2 265.8 72.7 271C68.3 276.2 60.2 280.8 57.7 282.7" fill="none" stroke="#000" stroke-width="3" />
</g>

<g id="gear2">
<line x1="111.1" y1="362.5" x2="130.6" y2="371.5" stroke="#000" stroke-width="8.0" stroke-linecap="round"/>
<line x1="109.4" y1="350.3" x2="129.5" y2="359.2" stroke="#000" stroke-width="8.0" stroke-linecap="round"/>
<line x1="110.6" y1="336.8" x2="130.6" y2="347.1" stroke="#000" stroke-width="8.0" stroke-linecap="round"/>
<line x1="112.3" y1="323.3" x2="132.7" y2="334.9" stroke="#000" stroke-width="8.0" stroke-linecap="round"/>
<line x1="117.2" y1="308.6" x2="128.9" y2="320.3" stroke="#000" stroke-width="8.0" stroke-linecap="round"/>
<line x1="124.6" y1="296.2" x2="137.7" y2="311.5" stroke="#000" stroke-width="8.0" stroke-linecap="round"/>
<line x1="132" y1="286" x2="145.3" y2="303.8" stroke="#000" stroke-width="8.0" stroke-linecap="round"/>
<line x1="137.4" y1="277.2" x2="151.1" y2="293.1" stroke="#000" stroke-width="8.0" stroke-linecap="round"/>
<line x1="145.6" y1="265.1" x2="157.9" y2="279.6" stroke="#000" stroke-width="8.0" stroke-linecap="round"/>
<line x1="153.5" y1="260.6" x2="165.7" y2="275.1" stroke="#000" stroke-width="8.0" stroke-linecap="round"/>
<line x1="165.6" y1="253.5" x2="174.1" y2="267.1" stroke="#000" stroke-width="8.0" stroke-linecap="round"/>
<line x1="176.5" y1="246.7" x2="183.8" y2="262.9" stroke="#000" stroke-width="8.0" stroke-linecap="round"/>
<line x1="188.4" y1="242.2" x2="194.3" y2="257.3" stroke="#000" stroke-width="8.0" stroke-linecap="round"/>
<line x1="201.5" y1="241.6" x2="206.8" y2="255.7" stroke="#000" stroke-width="8.0" stroke-linecap="round"/>
<line x1="214.8" y1="246.1" x2="219.1" y2="256.8" stroke="#000" stroke-width="8.0" stroke-linecap="round"/>
<line x1="223.3" y1="251.4" x2="230.8" y2="262.6" stroke="#000" stroke-width="8.0" stroke-linecap="round"/>
<line x1="230.8" y1="262.4" x2="238.2" y2="272.8" stroke="#000" stroke-width="8.0" stroke-linecap="round"/>
<path d="M111.1 362.5 L109.4 350.3 L110.6 336.8 L112.3 323.3 L117.2 308.6 L124.6 296.2 L132 286 L137.4 277.2 L145.6 265.1 L153.5 260.6 L165.6 253.5 L176.5 246.7 L188.4 242.2 L201.5 241.6 L214.8 246.1 L223.3 251.4 L230.8 262.4 L238.2 272.8 L230.8 262.6 L219.1 256.8 L206.8 255.7 L194.3 257.3 L183.8 262.9 L174.1 267.1 L165.7 275.1 L157.9 279.6 L151.1 293.1 L145.3 303.8 L137.7 311.5 L128.9 320.3 L132.7 334.9 L130.6 347.1 L129.5 359.2 L130.6 371.5Z" fill="#000" stroke="#000" stroke-width="2" stroke-linejoin="round"/>
<path d="M112.3 368C112.8 369.5 113.6 374.5 115.6 377C117.7 379.4 121.6 380.9 124.6 382.5C127.5 384.2 130.5 385.3 133.5 387C136.5 388.7 139.8 390.7 142.4 392.6C145 394.4 147.4 398.2 149.1 398.2C150.8 398.2 153.2 394.4 152.5 392.6C151.7 390.7 147.2 388.9 144.6 387C142 385.1 139.1 383.3 136.8 381.4C134.6 379.6 132.7 377.7 131.2 375.8C129.8 374 128.5 371.2 127.9 370.3" fill="#000" stroke="#000" stroke-width="5" />
<line x1="113.4" y1="363.6" x2="127.9" y2="370.3" stroke="#fff" stroke-width="4.2" stroke-linecap="round"/>
<line x1="111.7" y1="351.3" x2="126.8" y2="358" stroke="#fff" stroke-width="4.2" stroke-linecap="round"/>
<line x1="112.8" y1="337.9" x2="127.9" y2="345.7" stroke="#fff" stroke-width="4.8" stroke-linecap="round"/>
<line x1="114.5" y1="324.5" x2="130.1" y2="333.4" stroke="#fff" stroke-width="4.8" stroke-linecap="round"/>
<line x1="119" y1="310.4" x2="126.8" y2="318.2" stroke="#fff" stroke-width="4.8" stroke-linecap="round"/>
<line x1="126.2" y1="298.1" x2="135.7" y2="309.2" stroke="#fff" stroke-width="4.8" stroke-linecap="round"/>
<line x1="133.5" y1="288" x2="143.5" y2="301.4" stroke="#fff" stroke-width="4.5" stroke-linecap="round"/>
<line x1="139.1" y1="279.1" x2="149.1" y2="290.8" stroke="#fff" stroke-width="4.2" stroke-linecap="round"/>
<line x1="148.5" y1="268.5" x2="154.7" y2="275.8" stroke="#999" stroke-width="2" stroke-linecap="round"/>
<line x1="156.4" y1="264" x2="162.5" y2="271.3" stroke="#999" stroke-width="2" stroke-linecap="round"/>
<line x1="167" y1="255.7" x2="172.5" y2="264.6" stroke="#fff" stroke-width="4.5" stroke-linecap="round"/>
<line x1="177.6" y1="249" x2="182.6" y2="260.1" stroke="#fff" stroke-width="4.5" stroke-linecap="round"/>
<line x1="189.3" y1="244.5" x2="193.2" y2="254.6" stroke="#fff" stroke-width="4.5" stroke-linecap="round"/>
<line x1="202.4" y1="244" x2="205.7" y2="252.9" stroke="#fff" stroke-width="4.5" stroke-linecap="round"/>
<line x1="215.8" y1="248.4" x2="218" y2="254" stroke="#fff" stroke-width="3.8" stroke-linecap="round"/>
<line x1="225.8" y1="255.1" x2="228" y2="258.5" stroke="#999" stroke-width="2.5" stroke-linecap="round"/>
<line x1="233.4" y1="266.1" x2="235.3" y2="268.8" stroke="#999" stroke-width="2.8" stroke-linecap="round"/>
<path d="M125.9 380.9 L131.5 380.1 L129.2 383.1Z" fill="#fff" stroke="#fff" stroke-width="0.8" />
<path d="M137.7 388.1 L140.4 388.7 L139.1 391.2Z" fill="#fff" stroke="#fff" stroke-width="0.8" />
<path d="M150 395 L152.5 394.8 L151.3 397.6Z" fill="#fff" stroke="#fff" stroke-width="0.8" />
<path d="M149.2 395.3 L151.8 392.5 L152.9 397Z" fill="#fff" stroke="#fff" stroke-width="0.8" />
<path d="M164.8 393.1 L166.8 392.5 L167.1 395.3 L165.2 395.6Z" fill="#fff" stroke="#fff" stroke-width="0.8" />
<path d="M187.3 388.2 L184.5 396.5 L181 397.6 L178.8 390.9 L176.2 391.4 L172.1 399.4 L168.7 399.6 L168 392 L165.5 391.9 L160.3 399.1 L157.2 398.5 L157.9 390.3 L155.7 389.5 L149.7 395.7 L147 394.2 L149.1 385.9" fill="none" stroke="#000" stroke-width="3.6" stroke-linejoin="round"/>

<path d="M230.8 277.8 L238.7 274.3 L239.8 276.4 L234.8 285.3 L235.6 287.4 L243.4 285.8 L244 288.4 L237.9 296.4 L238.2 298.8 L245.5 299.2 L245.7 302 L238.6 308.8 L238.5 311.4 L245.1 313.7 L244.7 316.7 L237.1 322 L236.5 324.6 L242.1 328.9 L241.2 331.9 L233.4 335.4 L232.4 338 L236.7 343.9 L235.3 346.9 L227.5 348.4 L226.1 350.9 L229 358.3 L227.2 361 L219.9 360.5 L218.2 362.7 L219.4 371.2 L217.3 373.6 L210.8 371.1 L208.8 373 L208.4 382.2 L206.1 384.2 L200.6 379.8 L198.4 381.3 L196.4 390.8 L194 392.2 L189.7 386.2 L187.5 387.2 L184 396.7 L181.5 397.5 L178.7 390 L176.5 390.5 L171.6 399.4 L169.2 399.6 L168 391.1 L166 391 L159.9 399 L157.7 398.6 L158.1 389.3 L156.3 388.7 L149.3 395.5 L147.4 394.4 L149.4 384.9" fill="none" stroke="#000" stroke-width="2.6" stroke-linejoin="round"/>
<path d="M230.8 277.8 L238.7 274.3 L239.8 276.4 L234.8 285.3 L235.6 287.4 L243.4 285.8 L244 288.4 L237.9 296.4 L238.2 298.8 L245.5 299.2 L245.7 302 L238.6 308.8 L238.5 311.4 L245.1 313.7 L244.7 316.7 L237.1 322 L236.5 324.6 L242.1 328.9 L241.2 331.9 L233.4 335.4" fill="none" stroke="#000" stroke-width="3.3" stroke-linejoin="round"/>
<ellipse cx="186" cy="327" rx="34.6" ry="50.8" transform="rotate(29 186 327)" fill="#fff" stroke="#000" stroke-width="3"/>
<path d="M212.4 284C211.7 289 211.4 304.8 208.4 314.1C205.4 323.5 199.7 333.2 194.4 340.2C189 347.2 183 352.4 176.3 356.3C169.6 360.1 157.9 362.1 154.2 363.3" fill="none" stroke="#000" stroke-width="3" />
</g>

</g>
<g id="leaders"><polyline points="89,137.8 849.5,573" fill="none" stroke="#1a1a1a" stroke-width="1.15"/>
<line x1="88.8" y1="137.8" x2="88.8" y2="194" stroke="#2a2a2a" stroke-width="1.6"/>
<line x1="849.6" y1="573" x2="849.6" y2="590" stroke="#2a2a2a" stroke-width="1.6"/>
<line x1="180.8" y1="190.5" x2="180.8" y2="239" stroke="#2a2a2a" stroke-width="1.6"/>
<line x1="445" y1="299" x2="445" y2="434" stroke="#2a2a2a" stroke-width="1.6"/>
<line x1="695.8" y1="485" x2="695.8" y2="518" stroke="#2a2a2a" stroke-width="1.6"/>
<line x1="849.7" y1="614" x2="849.7" y2="633" stroke="#2a2a2a" stroke-width="1.6"/>
<line x1="717" y1="121.1" x2="780.5" y2="121.1" stroke="#2a2a2a" stroke-width="1.3"/></g>
<g id="labels" font-family="'Liberation Sans', sans-serif" font-size="20" fill="#222">
<text x="440.3" y="297">1</text>
<text x="674.6" y="510.4">2</text>
<text x="847.3" y="610.6">3</text>
<text x="786.6" y="129.4">4</text>
</g>
</svg>
</body>
</html>
